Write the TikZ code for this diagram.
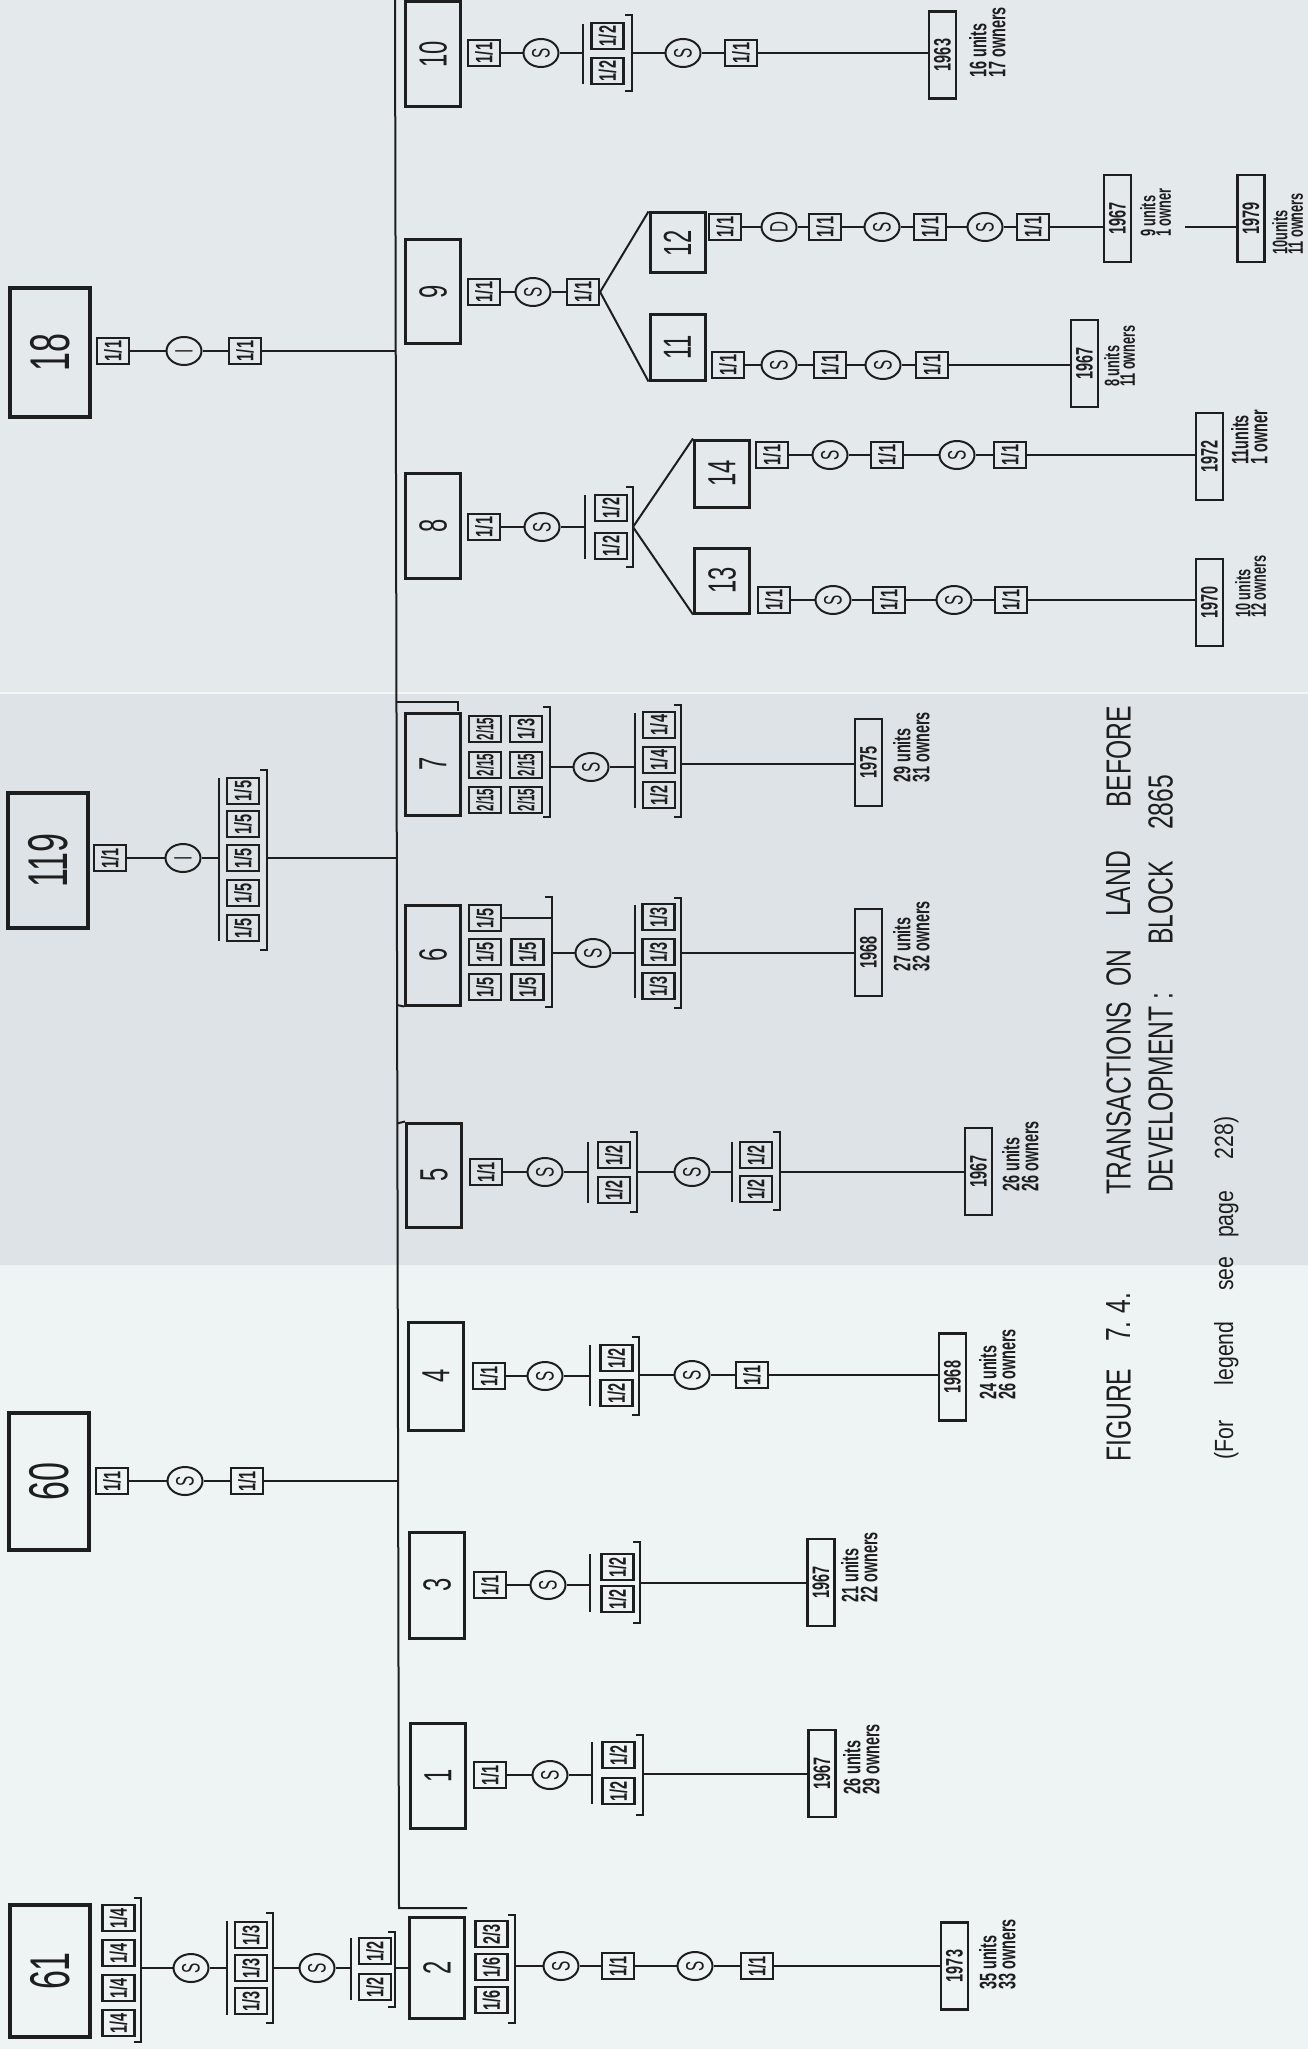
\documentclass[tikz,border=0pt]{standalone}
\usepackage{fontspec}
\setmainfont{Liberation Sans}
\usepackage{graphicx}
\usetikzlibrary{shapes.geometric}
\definecolor{inkc}{RGB}{30,30,30}
\definecolor{bgA}{RGB}{228,233,236}
\definecolor{bgB}{RGB}{221,227,230}
\definecolor{bgC}{RGB}{238,243,243}
\newcommand\rtx[4]{\rotatebox{90}{\fontsize{#1}{#1}\selectfont\scalebox{#2}[#3]{#4}}}
\newcommand\bnum[1]{\rtx{40}{0.85}{1.4}{#1}}
\newcommand\cnum[1]{\rtx{28}{0.85}{1.4}{#1}}
\newcommand\frc[2][0.85]{\rtx{17}{#1}{1.4}{\bfseries #2}}
\newcommand\trl[1]{\rtx{18}{0.85}{1.4}{#1}}
\newcommand\yrs[1]{\rtx{17}{0.85}{1.4}{\bfseries #1}}
\newcommand\unt[2]{\rotatebox{90}{\fontsize{17}{13.5}\selectfont\bfseries\scalebox{0.85}[1.4]{\vbox{\baselineskip=13.5pt\lineskiplimit=-20pt\hbox{#1}\hbox{#2}}}}}
\newcommand\unts[2]{\rotatebox{90}{\fontsize{15}{11}\selectfont\bfseries\scalebox{0.85}[1.4]{\vbox{\baselineskip=11pt\lineskiplimit=-20pt\hbox{#1}\hbox{#2}}}}}
\newcommand\capw[1]{\rtx{29}{0.85}{1.2}{#1}}
\newcommand\legw[1]{\rtx{25}{0.85}{1.05}{#1}}
\newcommand\myrbrk[3]{\draw[conn] ({#1-7},#2) -- (#1,#2) -- (#1,#3) -- ({#1-7},#3);}
\newcommand\mylbar[3]{\draw[conn] (#1,#2) -- (#1,#3);}
\tikzset{
  conn/.style={draw=inkc, line width=2pt},
  pbox/.style={draw=inkc, line width=3.2pt, inner sep=0pt, minimum width=80pt, text=inkc},
  cbox/.style={draw=inkc, line width=3pt, inner sep=0pt, minimum width=55pt, text=inkc},
  frb/.style={draw=inkc, line width=2.2pt, inner sep=0pt, minimum width=32pt, minimum height=26pt, text=inkc},
  trc/.style={ellipse, draw=inkc, line width=2pt, inner sep=0pt, minimum width=35pt, minimum height=28pt, text=inkc},
  yrb/.style={draw=inkc, line width=2.4pt, inner sep=0pt, minimum width=27pt, minimum height=87pt, text=inkc},
  utx/.style={inner sep=0pt, anchor=south west, text=inkc},
}
\begin{document}
\begin{tikzpicture}[x=1pt,y=-1pt]
\useasboundingbox (0,0) rectangle (1308,2049);
\fill[bgA] (0,0) rectangle (1308,693);
\fill[bgB] (0,693) rectangle (1308,1265);
\fill[bgC] (0,1265) rectangle (1308,2049);
\draw[white!60!bgA, line width=1.5pt] (0,693) -- (1308,693);

% ---------- parents
\node[pbox, minimum height=129pt] (p18) at (50,352.5) {\bnum{18}};
\node[pbox, minimum height=135pt] (p119) at (48,860.5) {\bnum{119}};
\node[pbox, minimum height=137pt] (p60) at (49,1481.5) {\bnum{60}};
\node[pbox, minimum height=132pt] (p61) at (50,1971) {\bnum{61}};

% ---------- trunk
\coordinate (tTop) at (395,0);
\coordinate (tBot) at (399,1908);
\coordinate (tEnd) at (467,1908);
\draw[conn] (tTop) -- (tBot) -- (tEnd);
\coordinate (j18) at (396,351);
\coordinate (j119) at (397,858);
\coordinate (j60) at (398,1481);

% ---------- children
\node[cbox, minimum height=105pt] (c10) at (433,54.5) {\cnum{10}};
\node[cbox, minimum height=103pt] (c9) at (433,291.5) {\cnum{9}};
\node[cbox, minimum height=105pt] (c8) at (433,525.5) {\cnum{8}};
\node[cbox, minimum height=102pt] (c7) at (433,764) {\cnum{7}};
\node[cbox, minimum height=100pt] (c6) at (433,955) {\cnum{6}};
\node[cbox, minimum height=104pt] (c5) at (434,1175) {\cnum{5}};
\node[cbox, minimum height=108pt] (c4) at (436,1376) {\cnum{4}};
\node[cbox, minimum height=106pt] (c3) at (437,1585) {\cnum{3}};
\node[cbox, minimum height=105pt] (c1) at (438,1775.5) {\cnum{1}};
\node[cbox, minimum height=101pt] (c2) at (437,1967.5) {\cnum{2}};
\node[cbox, minimum height=60pt] (c12) at (677.5,243) {\cnum{12}};
\node[cbox, minimum height=65pt] (c11) at (677.5,347.5) {\cnum{11}};
\node[cbox, minimum height=67pt] (c14) at (722,473.5) {\cnum{14}};
\node[cbox, minimum height=65pt] (c13) at (722,580.5) {\cnum{13}};

\draw[conn] (396,702) -- (458,702) -- (458,711);
\draw[conn] (397,1005) -- (c6.south west);
\draw[conn] (397,1123.5) -- (c5.north west);

% ---------- chain 18
\node[frb] (f18a) at (113,351) {\frc{1/1}};
\node[trc] (t18) at (184,351) {\trl{I}};
\node[frb] (f18b) at (245,351) {\frc{1/1}};
\draw[conn] (f18a) -- (t18) -- (f18b) -- (j18);

% ---------- chain 119
\node[frb] (f119a) at (110,858) {\frc{1/1}};
\node[trc] (t119) at (183,858) {\trl{I}};
\node[frb] (g119a) at (243,791) {\frc{1/5}};
\node[frb] (g119b) at (243,824) {\frc{1/5}};
\node[frb] (g119c) at (243,858) {\frc{1/5}};
\node[frb] (g119d) at (243,893) {\frc{1/5}};
\node[frb] (g119e) at (243,928) {\frc{1/5}};
\mylbar{219}{778}{941}
\myrbrk{267}{770}{950}
\coordinate (l119) at (219,858);
\coordinate (b119) at (267,858);
\draw[conn] (f119a) -- (t119) -- (l119);
\draw[conn] (b119) -- (j119);

% ---------- chain 60
\node[frb] (f60a) at (112,1481) {\frc{1/1}};
\node[trc] (t60) at (185,1481) {\trl{S}};
\node[frb] (f60b) at (247,1481) {\frc{1/1}};
\draw[conn] (f60a) -- (t60) -- (f60b) -- (j60);

% ---------- chain 61
\node[frb] (g61a) at (118.5,1918) {\frc{1/4}};
\node[frb] (g61b) at (118.5,1953) {\frc{1/4}};
\node[frb] (g61c) at (118.5,1988) {\frc{1/4}};
\node[frb] (g61d) at (118.5,2023) {\frc{1/4}};
\myrbrk{141}{1898}{2042}
\coordinate (b61) at (141,1968);
\node[trc] (t61a) at (191,1968) {\trl{S}};
\node[frb] (h61a) at (251,1935) {\frc{1/3}};
\node[frb] (h61b) at (251,1968) {\frc{1/3}};
\node[frb] (h61c) at (251,2001) {\frc{1/3}};
\mylbar{227}{1921}{2015}
\myrbrk{273}{1913}{2023}
\coordinate (l61b) at (227,1968);
\coordinate (b61b) at (273,1968);
\node[trc] (t61b) at (317,1968) {\trl{S}};
\node[frb] (k61a) at (375,1951) {\frc{1/2}};
\node[frb] (k61b) at (375,1987) {\frc{1/2}};
\mylbar{351}{1938}{2000}
\myrbrk{395}{1932}{2007}
\coordinate (l61c) at (351,1968);
\coordinate (b61c) at (395,1968);
\draw[conn] (b61) -- (t61a) -- (l61b);
\draw[conn] (b61b) -- (t61b) -- (l61c);
\draw[conn] (b61c) -- (b61c -| c2.west);

% ---------- chain 2
\node[frb] (g2a) at (491.5,1934) {\frc{2/3}};
\node[frb] (g2b) at (491.5,1967) {\frc{1/6}};
\node[frb] (g2c) at (491.5,2000) {\frc{1/6}};
\myrbrk{515}{1915}{2023}
\coordinate (b2) at (515,1966);
\node[trc] (t2a) at (561,1966) {\trl{S}};
\node[frb] (f2a) at (618,1966) {\frc{1/1}};
\node[trc] (t2b) at (695,1966) {\trl{S}};
\node[frb] (f2b) at (757,1966) {\frc{1/1}};
\node[yrb] (y2) at (954.5,1966) {\yrs{1973}};
\node[utx] (u2) at (979,1990) {\unt{35 units}{33 owners}};
\draw[conn] (b2) -- (t2a) -- (f2a) -- (t2b) -- (f2b) -- (y2);

% ---------- chain 1
\node[frb] (f1a) at (490,1775) {\frc{1/1}};
\node[trc] (t1) at (550,1775) {\trl{S}};
\node[frb] (g1a) at (618.5,1755) {\frc{1/2}};
\node[frb] (g1b) at (618.5,1791) {\frc{1/2}};
\mylbar{592}{1742}{1804}
\myrbrk{643}{1735}{1815}
\coordinate (l1) at (592,1775);
\coordinate (b1) at (643,1774);
\node[yrb] (y1) at (822,1773.5) {\yrs{1967}};
\node[utx] (u1) at (843,1795) {\unt{26 units}{29 owners}};
\draw[conn] (f1a) -- (t1) -- (l1);
\draw[conn] (b1) -- (b1 -| y1.west);

% ---------- chain 3
\node[frb] (f3a) at (490,1585) {\frc{1/1}};
\node[trc] (t3) at (548,1585) {\trl{S}};
\node[frb] (g3a) at (617.5,1567) {\frc{1/2}};
\node[frb] (g3b) at (617.5,1599) {\frc{1/2}};
\mylbar{590}{1554}{1612}
\myrbrk{640}{1542}{1623}
\coordinate (l3) at (590,1585);
\coordinate (b3) at (640,1583);
\node[yrb] (y3) at (821,1582.5) {\yrs{1967}};
\node[utx] (u3) at (841,1603) {\unt{21 units}{22 owners}};
\draw[conn] (f3a) -- (t3) -- (l3);
\draw[conn] (b3) -- (b3 -| y3.west);

% ---------- chain 4
\node[frb] (f4a) at (489,1376) {\frc{1/1}};
\node[trc] (t4a) at (545,1376) {\trl{S}};
\node[frb] (g4a) at (616.5,1358) {\frc{1/2}};
\node[frb] (g4b) at (616.5,1393) {\frc{1/2}};
\mylbar{590}{1345}{1406}
\myrbrk{639}{1337}{1415}
\coordinate (l4) at (590,1376);
\coordinate (b4) at (639,1375);
\node[trc] (t4b) at (692,1375) {\trl{S}};
\node[frb] (f4b) at (752,1375) {\frc{1/1}};
\node[yrb] (y4) at (952.5,1377) {\yrs{1968}};
\node[utx] (u4) at (979,1400) {\unt{24 units}{26 owners}};
\draw[conn] (f4a) -- (t4a) -- (l4);
\draw[conn] (b4) -- (t4b) -- (f4b);
\draw[conn] (f4b.east) -- (f4b.east -| y4.west);

% ---------- chain 5
\node[frb] (f5a) at (486,1172) {\frc{1/1}};
\node[trc] (t5a) at (545,1172) {\trl{S}};
\node[frb] (g5a) at (614,1155) {\frc{1/2}};
\node[frb] (g5b) at (614,1190) {\frc{1/2}};
\mylbar{588}{1142}{1203}
\myrbrk{637}{1132}{1212}
\coordinate (l5) at (588,1172);
\coordinate (b5) at (637,1172);
\node[trc] (t5b) at (692,1172) {\trl{S}};
\node[frb] (h5a) at (756,1155) {\frc{1/2}};
\node[frb] (h5b) at (756,1189) {\frc{1/2}};
\mylbar{732}{1142}{1202}
\myrbrk{780}{1132}{1210}
\coordinate (l5b) at (732,1172);
\coordinate (b5b) at (780,1172);
\node[yrb] (y5) at (978.5,1171.5) {\yrs{1967}};
\node[utx] (u5) at (1002,1192) {\unt{26 units}{26 owners}};
\draw[conn] (f5a) -- (t5a) -- (l5);
\draw[conn] (b5) -- (t5b) -- (l5b);
\draw[conn] (b5b) -- (b5b -| y5.west);

% ---------- chain 6
\node[frb] (g6a) at (485,918) {\frc{1/5}};
\node[frb] (g6b) at (485,952) {\frc{1/5}};
\node[frb] (g6c) at (485,987) {\frc{1/5}};
\node[frb] (g6d) at (527.5,952) {\frc{1/5}};
\node[frb] (g6e) at (527.5,987) {\frc{1/5}};
\myrbrk{552}{897}{1007}
\coordinate (k6) at (552,918);
\draw[conn] (g6a) -- (k6);
\coordinate (b6) at (552,953);
\node[trc] (t6) at (593,953) {\trl{S}};
\node[frb] (h6a) at (658.5,917) {\frc{1/3}};
\node[frb] (h6b) at (658.5,952) {\frc{1/3}};
\node[frb] (h6c) at (658.5,986) {\frc{1/3}};
\mylbar{635}{905}{998}
\myrbrk{681}{898}{1008}
\coordinate (l6) at (635,953);
\coordinate (b6b) at (681,953);
\node[yrb] (y6) at (868.5,952.5) {\yrs{1968}};
\node[utx] (u6) at (893,972) {\unt{27 units}{32 owners}};
\draw[conn] (b6) -- (t6) -- (l6);
\draw[conn] (b6b) -- (b6b -| y6.west);

% ---------- chain 7
\node[frb] (g7a) at (485,729) {\frc[0.68]{2/15}};
\node[frb] (g7b) at (485,765) {\frc[0.68]{2/15}};
\node[frb] (g7c) at (485,800) {\frc[0.68]{2/15}};
\node[frb] (g7d) at (526,729) {\frc{1/3}};
\node[frb] (g7e) at (526,765) {\frc[0.68]{2/15}};
\node[frb] (g7f) at (526,800) {\frc[0.68]{2/15}};
\myrbrk{550}{707}{817}
\coordinate (b7) at (550,767);
\node[trc] (t7) at (591,767) {\trl{S}};
\node[frb] (h7a) at (659,725) {\frc{1/4}};
\node[frb] (h7b) at (659,760) {\frc{1/4}};
\node[frb] (h7c) at (659,795) {\frc{1/2}};
\mylbar{635}{713}{808}
\myrbrk{681}{705}{817}
\coordinate (l7) at (635,767);
\coordinate (b7b) at (681,764);
\node[yrb] (y7) at (868.5,762.5) {\yrs{1975}};
\node[utx] (u7) at (893,783) {\unt{29 units}{31 owners}};
\draw[conn] (b7) -- (t7) -- (l7);
\draw[conn] (b7b) -- (b7b -| y7.west);

% ---------- chain 8
\node[frb] (f8a) at (484,527) {\frc{1/1}};
\node[trc] (t8) at (542,527) {\trl{S}};
\node[frb] (g8a) at (611,508) {\frc{1/2}};
\node[frb] (g8b) at (611,546) {\frc{1/2}};
\mylbar{585}{495}{559}
\myrbrk{633}{487}{567}
\coordinate (l8) at (585,527);
\coordinate (b8) at (633,527);
\draw[conn] (f8a) -- (t8) -- (l8);
\draw[conn] (b8) -- (c14.north west);
\draw[conn] (b8) -- (c13.south west);

% ---------- chain 14
\node[frb] (f14a) at (772,455) {\frc{1/1}};
\node[trc] (t14a) at (830,455) {\trl{S}};
\node[frb] (f14b) at (887,455) {\frc{1/1}};
\node[trc] (t14b) at (957,455) {\trl{S}};
\node[frb] (f14c) at (1010,455) {\frc{1/1}};
\node[yrb] (y14) at (1209.5,456.5) {\yrs{1972}};
\node[utx] (u14) at (1231,465) {\unt{11units}{1 owner}};
\draw[conn] (f14a) -- (t14a) -- (f14b) -- (t14b) -- (f14c);
\draw[conn] (f14c.east) -- (f14c.east -| y14.west);

% ---------- chain 13
\node[frb] (f13a) at (774,600) {\frc{1/1}};
\node[trc] (t13a) at (833,600) {\trl{S}};
\node[frb] (f13b) at (889,600) {\frc{1/1}};
\node[trc] (t13b) at (954,600) {\trl{S}};
\node[frb] (f13c) at (1011,600) {\frc{1/1}};
\node[yrb] (y13) at (1209.5,602.5) {\yrs{1970}};
\node[utx] (u13) at (1235,618) {\unts{10 units}{12 owners}};
\draw[conn] (f13a) -- (t13a) -- (f13b) -- (t13b) -- (f13c);
\draw[conn] (f13c.east) -- (f13c.east -| y13.west);

% ---------- chain 9
\node[frb] (f9a) at (484,292) {\frc{1/1}};
\node[trc] (t9) at (533,292) {\trl{S}};
\node[frb] (f9b) at (583,292) {\frc{1/1}};
\draw[conn] (f9a) -- (t9) -- (f9b);
\draw[conn] (f9b.east) -- (c12.north west);
\draw[conn] (f9b.east) -- (c11.south west);

% ---------- chain 12
\node[frb] (f12a) at (725,227) {\frc{1/1}};
\node[trc] (d12) at (779,227) {\trl{D}};
\node[frb] (f12b) at (825,227) {\frc{1/1}};
\node[trc] (t12a) at (882,227) {\trl{S}};
\node[frb] (f12c) at (930,227) {\frc{1/1}};
\node[trc] (t12b) at (985,227) {\trl{S}};
\node[frb] (f12d) at (1033,227) {\frc{1/1}};
\node[yrb] (y12a) at (1117.5,218.5) {\yrs{1967}};
\node[utx] (u12a) at (1140,237) {\unts{9 units}{1 owner}};
\coordinate (e12) at (1185,227);
\node[yrb] (y12b) at (1251,218.5) {\yrs{1979}};
\node[utx] (u12b) at (1272,255) {\unts{10units}{11 owners}};
\draw[conn] (f12a) -- (d12) -- (f12b) -- (t12a) -- (f12c) -- (t12b) -- (f12d);
\draw[conn] (f12d.east) -- (f12d.east -| y12a.west);
\draw[conn] (e12) -- (e12 -| y12b.west);

% ---------- chain 11
\node[frb] (f11a) at (728,365) {\frc{1/1}};
\node[trc] (t11a) at (779,365) {\trl{S}};
\node[frb] (f11b) at (830,365) {\frc{1/1}};
\node[trc] (t11b) at (883,365) {\trl{S}};
\node[frb] (f11c) at (932,365) {\frc{1/1}};
\node[yrb] (y11) at (1084.5,363.5) {\yrs{1967}};
\node[utx] (u11) at (1104,387) {\unts{8 units}{11 owners}};
\draw[conn] (f11a) -- (t11a) -- (f11b) -- (t11b) -- (f11c);
\draw[conn] (f11c.east) -- (f11c.east -| y11.west);

% ---------- chain 10
\node[frb] (f10a) at (484,53) {\frc{1/1}};
\node[trc] (t10a) at (541,53) {\trl{S}};
\node[frb] (g10a) at (607.5,36) {\frc{1/2}};
\node[frb] (g10b) at (607.5,71) {\frc{1/2}};
\mylbar{583}{24}{84}
\myrbrk{632}{15}{91}
\coordinate (l10) at (583,53);
\coordinate (b10) at (632,53);
\node[trc] (t10b) at (683,53) {\trl{S}};
\node[frb] (f10b) at (741,53) {\frc{1/1}};
\node[yrb] (y10) at (942.5,55) {\yrs{1963}};
\node[utx] (u10) at (969,78) {\unt{16 units}{17 owners}};
\draw[conn] (f10a) -- (t10a) -- (l10);
\draw[conn] (b10) -- (t10b) -- (f10b);
\draw[conn] (f10b.east) -- (f10b.east -| y10.west);

% ---------- caption
\node[utx] (cap1) at (1106,1462) {\capw{FIGURE}};
\node[utx] (cap2) at (1106,1342) {\capw{7.\hspace{9pt}4.}};
\node[utx] (cap3) at (1106,1195) {\capw{TRANSACTIONS}};
\node[utx] (cap4) at (1106,987) {\capw{ON}};
\node[utx] (cap5) at (1106,917) {\capw{LAND}};
\node[utx] (cap6) at (1106,808) {\capw{BEFORE}};
\node[utx] (cap7) at (1148,1193) {\capw{DEVELOPMENT :}};
\node[utx] (cap8) at (1148,945) {\capw{BLOCK}};
\node[utx] (cap9) at (1148,830) {\capw{2865}};
\node[utx] (leg) at (1214,1460) {\legw{(For\hspace{42pt}legend\hspace{36pt}see\hspace{22pt}page\hspace{37pt}228)}};
\end{tikzpicture}
\end{document}
